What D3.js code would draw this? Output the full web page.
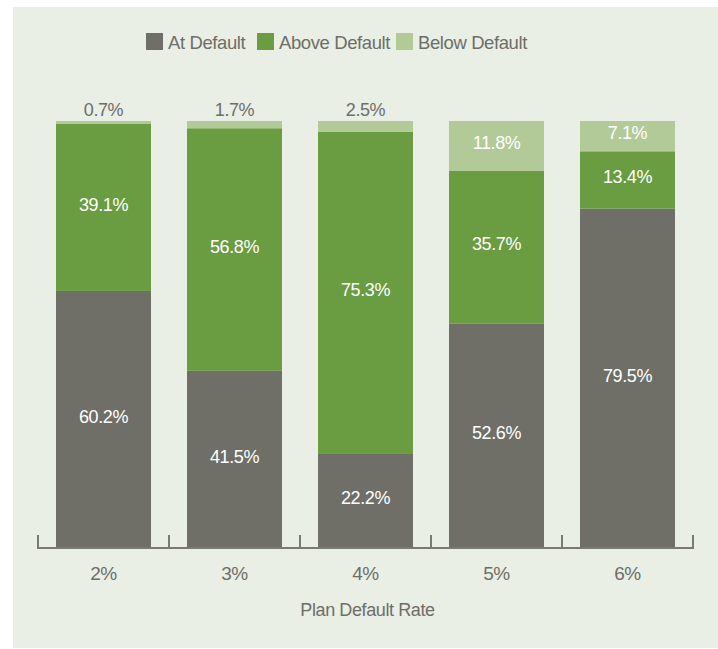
<!DOCTYPE html>
<html>
<head>
<meta charset="utf-8">
<script src="https://cdn.jsdelivr.net/npm/d3@7"></script>
<style>
  body { margin: 0; background: #ffffff; }
  text { font-family: "Liberation Sans", Arial, sans-serif; letter-spacing: -0.4px; }
</style>
</head>
<body>
<div id="chart"></div>
<script>
// data
const rates = ["2%", "3%", "4%", "5%", "6%"];
const atDefault = [60.2, 41.5, 22.2, 52.6, 79.5];
const aboveDefault = [39.1, 56.8, 75.3, 35.7, 13.4];
const belowDefault = [0.7, 1.7, 2.5, 11.8, 7.1];
const seriesNames = ["At Default", "Above Default", "Below Default"];
const seriesColors = ["#6f6f67", "#6a9c41", "#b1ca97"];
const axisTitle = "Plan Default Rate";

const width = 718, height = 649;
const margin = {top: 121, right: 25, bottom: 101, left: 38};
const innerW = width - margin.left - margin.right;
const innerH = height - margin.top - margin.bottom;

const rows = rates.map((r, i) => ({
    rate: r,
    "At Default": atDefault[i],
    "Above Default": aboveDefault[i],
    "Below Default": belowDefault[i]
}));

const svg = d3.select("#chart").append("svg")
    .attr("width", width)
    .attr("height", height);

// panel background
svg.append("rect")
    .attr("x", 13).attr("y", 7)
    .attr("width", width - 13).attr("height", 641)
    .attr("fill", "#e9efe5");

const g = svg.append("g")
    .attr("transform", `translate(${margin.left},${margin.top})`);

const x = d3.scaleBand().domain(rates).range([0, innerW]).padding(0);
const barW = x.bandwidth() * 0.725;
const y = d3.scaleLinear().domain([0, 100]).range([innerH, 0]);
const color = d3.scaleOrdinal().domain(seriesNames).range(seriesColors);

const stacked = d3.stack().keys(seriesNames)(rows);
const segTop = d => y(Math.min(d[1], 100));

const layers = g.selectAll(".layer")
    .data(stacked)
    .enter().append("g")
    .attr("class", "layer")
    .attr("fill", d => color(d.key));

layers.selectAll("rect")
    .data(d => d)
    .enter().append("rect")
    .attr("x", d => x(d.data.rate) + (x.bandwidth() - barW) / 2)
    .attr("width", barW)
    .attr("y", d => segTop(d))
    .attr("height", d => y(d[0]) - segTop(d));

// value labels: inside the segment, or above the bar when the segment is thin
stacked.forEach(layer => {
    layer.forEach(d => {
        const v = d[1] - d[0];
        const cx = x(d.data.rate) + x.bandwidth() / 2;
        const segH = y(d[0]) - segTop(d);
        const inside = segH > 22;
        g.append("text")
            .attr("x", cx)
            .attr("y", inside ? (y(d[0]) + segTop(d)) / 2 - 3 : segTop(d) - 5)
            .attr("dy", inside ? "0.35em" : 0)
            .attr("text-anchor", "middle")
            .attr("font-size", 18)
            .attr("fill", inside ? "#ffffff" : "#6e6e68")
            .text(d3.format(".1f")(v) + "%");
    });
});

// axis: baseline with ticks at band edges
const axisG = g.append("g").attr("transform", `translate(0,${innerH})`);
axisG.append("line")
    .attr("x1", 0).attr("x2", innerW)
    .attr("stroke", "#7a7a74").attr("stroke-width", 2);
const edges = rates.map(r => x(r)).concat([innerW]);
axisG.selectAll(".tick")
    .data(edges)
    .enter().append("line")
    .attr("x1", d => d).attr("x2", d => d)
    .attr("y1", 1).attr("y2", -13)
    .attr("stroke", "#7a7a74").attr("stroke-width", 2);

axisG.selectAll(".lbl")
    .data(rates)
    .enter().append("text")
    .attr("x", d => x(d) + x.bandwidth() / 2)
    .attr("y", 32)
    .attr("text-anchor", "middle")
    .attr("font-size", 19)
    .attr("fill", "#6e6e68")
    .text(d => d);

g.append("text")
    .attr("x", innerW / 2 + 2)
    .attr("y", innerH + 68)
    .attr("text-anchor", "middle")
    .attr("font-size", 18)
    .attr("fill", "#6e6e68")
    .text(axisTitle);

// legend
const legendX = [146, 257, 396];
const legend = svg.selectAll(".legend")
    .data(seriesNames)
    .enter().append("g")
    .attr("transform", (d, i) => `translate(${legendX[i]},33)`);
legend.append("rect")
    .attr("width", 17).attr("height", 17)
    .attr("fill", d => color(d));
legend.append("text")
    .attr("x", 22).attr("y", 16)
    .attr("font-size", 18.5)
    .attr("fill", "#6e6e68")
    .text(d => d);
</script>
</body>
</html>
